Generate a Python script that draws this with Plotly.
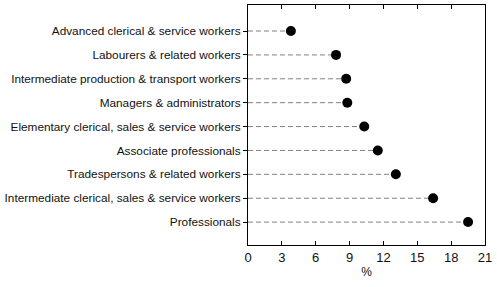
import plotly.graph_objects as go

categories = [
    "Advanced clerical & service workers",
    "Labourers & related workers",
    "Intermediate production & transport workers",
    "Managers & administrators",
    "Elementary clerical, sales & service workers",
    "Associate professionals",
    "Tradespersons & related workers",
    "Intermediate clerical, sales & service workers",
    "Professionals",
]
values = [3.8, 7.8, 8.7, 8.8, 10.3, 11.5, 13.1, 16.4, 19.5]
x_ticks = [0, 3, 6, 9, 12, 15, 18, 21]

idx = list(range(len(categories)))
lx, ly = [], []
for i, v in zip(idx, values):
    lx += [0, v, None]
    ly += [i, i, None]

FONT = "Liberation Sans, Arial, sans-serif"

fig = go.Figure()
fig.add_trace(go.Scatter(x=lx, y=ly, mode="lines",
                         line=dict(color="#808080", width=1, dash="5px,3px"),
                         hoverinfo="skip", showlegend=False))
fig.add_trace(go.Scatter(x=values, y=idx, mode="markers",
                         marker=dict(color="black", size=10),
                         showlegend=False))

fig.update_layout(
    width=497, height=287,
    margin=dict(l=248, r=12, t=5, b=42),
    paper_bgcolor="white", plot_bgcolor="white",
    font=dict(family=FONT, size=12, color="#111"),
    xaxis=dict(range=[0, 21], tickvals=x_ticks, ticktext=[str(t) for t in x_ticks],
               showgrid=False, zeroline=False, showline=True, linecolor="black",
               linewidth=1, mirror="ticks", ticks="inside", ticklen=4,
               tickcolor="black", automargin=False,
               title=dict(text="%", standoff=4, font=dict(size=12)),
               tickfont=dict(size=13)),
    yaxis=dict(range=[8.96, -1.09], tickvals=idx, ticktext=categories,
               showgrid=False, zeroline=False, showline=True, linecolor="black",
               linewidth=1, mirror=True, ticks="outside", ticklen=4,
               tickcolor="black", automargin=False, tickfont=dict(size=11.8)),
)
fig.write_html("out.html")
